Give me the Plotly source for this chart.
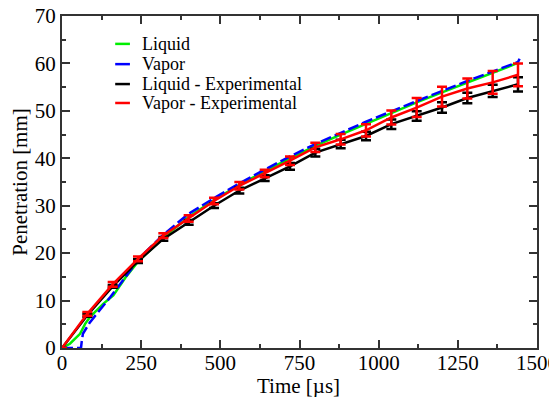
import plotly.graph_objects as go

# Simulation: liquid
liq_t = [0, 25, 57, 73, 88, 130, 162, 200, 240, 320, 400, 480, 560, 640, 720, 800, 880, 960, 1040, 1120, 1200, 1280, 1360, 1440]
liq_y = [0, 0.9, 3.0, 5.1, 6.5, 9.3, 11.1, 14.8, 18.2, 23.3, 27.6, 31.2, 34.4, 37.3, 40.0, 42.6, 45.0, 47.3, 49.6, 51.8, 53.9, 56.0, 58.0, 60.1]

# Simulation: vapor
vap_t = [0, 60, 62, 66, 88, 110, 152, 204, 246, 320, 400, 480, 560, 640, 720, 800, 880, 960, 1040, 1120, 1200, 1280, 1360, 1440, 1445]
vap_y = [0, 0, 1.2, 3.0, 5.4, 7.2, 10.7, 15.3, 19.1, 23.9, 28.3, 31.6, 34.7, 37.6, 40.4, 43.0, 45.4, 47.7, 49.9, 52.1, 54.2, 56.3, 58.3, 60.3, 61.0]

# Experimental
exp_t = [0, 80, 160, 240, 320, 400, 480, 560, 640, 720, 800, 880, 960, 1040, 1120, 1200, 1280, 1360, 1440]
liq_exp = [0, 6.9, 13.0, 18.3, 23.0, 26.5, 30.0, 33.2, 35.8, 38.3, 41.2, 43.0, 44.7, 47.2, 48.9, 50.7, 52.7, 54.2, 55.6]
liq_err = [0, 0.3, 0.3, 0.4, 0.4, 0.5, 0.5, 0.6, 0.6, 0.7, 0.8, 0.9, 0.9, 1.0, 1.0, 1.1, 1.1, 1.3, 1.5]
vap_exp = [0, 7.2, 13.4, 18.8, 23.7, 27.3, 31.0, 34.2, 36.8, 39.5, 42.3, 44.0, 45.9, 48.6, 50.7, 53.0, 54.7, 56.0, 57.6]
vap_err = [0, 0.4, 0.5, 0.5, 0.5, 0.7, 0.7, 0.8, 0.8, 0.9, 1.0, 1.1, 1.3, 1.5, 2.0, 2.1, 2.1, 2.4, 2.4]

names = ["Liquid", "Vapor", "Liquid - Experimental", "Vapor - Experimental"]
colors = ["#00ee00", "#0000ff", "black", "#ff0000"]
x_title = "Time [µs]"
y_title = "Penetration [mm]"

font = "Liberation Serif"

fig = go.Figure()
fig.add_trace(go.Scatter(x=liq_t, y=liq_y, mode="lines", name=names[0],
                         line=dict(color=colors[0], width=2.5)))
fig.add_trace(go.Scatter(x=vap_t, y=vap_y, mode="lines", name=names[1],
                         line=dict(color=colors[1], width=2.5, dash="11px,4px")))
fig.add_trace(go.Scatter(x=exp_t, y=liq_exp, mode="lines", name=names[2],
                         line=dict(color=colors[2], width=2.5),
                         error_y=dict(type="data", array=liq_err, color=colors[2], thickness=2.5, width=5)))
fig.add_trace(go.Scatter(x=exp_t, y=vap_exp, mode="lines", name=names[3],
                         line=dict(color=colors[3], width=2.5),
                         error_y=dict(type="data", array=vap_err, color=colors[3], thickness=2.5, width=5)))

# manual legend (compact line samples like the reference)
leg_y = [0.916, 0.855, 0.795, 0.738]
for name, col, yy in zip(names, colors, leg_y):
    fig.add_shape(type="line", xref="x domain", yref="y domain",
                  x0=0.112, x1=0.143, y0=yy, y1=yy,
                  line=dict(color=col, width=2.5))
    fig.add_annotation(xref="x domain", yref="y domain", x=0.164, y=yy,
                       text=name, showarrow=False, xanchor="left", yanchor="middle",
                       font=dict(family=font, size=18, color="black"))

# x-axis title placed close under the tick labels, as in the reference
fig.add_annotation(xref="x domain", yref="y domain", x=0.497, y=-0.113,
                   text=x_title, showarrow=False, xanchor="center", yanchor="middle",
                   font=dict(family=font, size=21, color="black"))

axis_common = dict(showline=True, linecolor="#333333", linewidth=2, mirror="allticks",
                   ticks="inside", ticklen=8, tickwidth=1.5, tickcolor="#333333",
                   showgrid=False, zeroline=False, automargin=False,
                   ticklabeloverflow="allow",
                   tickfont=dict(family=font, size=21, color="black"))

fig.update_layout(
    width=557, height=397,
    margin=dict(l=54, r=28, t=8, b=57, autoexpand=False),
    paper_bgcolor="white", plot_bgcolor="white",
    font=dict(family=font, color="black"),
    showlegend=False,
)
fig.update_xaxes(range=[0, 1500], dtick=250, tick0=0, ticklabelstandoff=-5,
                 minor=dict(dtick=125, ticks="inside", ticklen=4, tickcolor="#333333", tickwidth=1.5),
                 **axis_common)
fig.update_yaxes(range=[0, 70], dtick=10, tick0=0,
                 minor=dict(dtick=5, ticks="inside", ticklen=4, tickcolor="#333333", tickwidth=1.5),
                 title=dict(text=y_title, font=dict(family=font, size=21), standoff=2),
                 **axis_common)

fig.write_html("out.html")
